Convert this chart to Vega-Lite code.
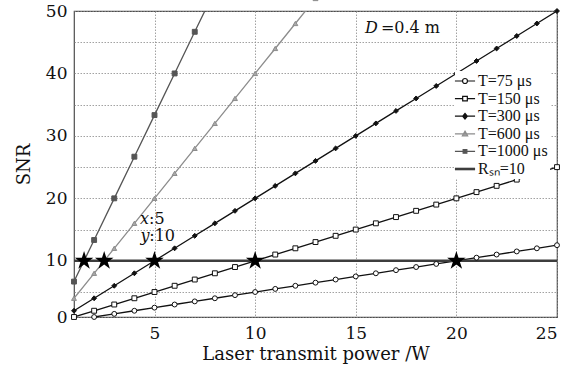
{
  "$schema": "https://vega.github.io/schema/vega-lite/v6.json",
  "width": 483,
  "height": 306,
  "autosize": {"type": "none"},
  "padding": {"left": 74, "top": 11, "right": 23, "bottom": 53},
  "background": "white",
  "config": {
    "font": "DejaVu Serif",
    "view": {"stroke": "#4d4d4d", "strokeWidth": 1.2},
    "axis": {
      "labelFont": "DejaVu Serif", "titleFont": "DejaVu Serif",
      "labelFontSize": 17, "titleFontSize": 18, "titleFontWeight": "normal",
      "labelColor": "#111", "titleColor": "#111",
      "domain": false, "ticks": false,
      "gridColor": "#8a8a8a", "gridDash": [1.5, 1.5], "gridWidth": 0.8, "gridOpacity": 1
    }
  },
  "data": {"values": [
      {"k": "L", "s": "T=75 μs", "x": 2, "y": 1}, {"k": "L", "s": "T=75 μs", "x": 3, "y": 1.5}, {"k": "L", "s": "T=75 μs", "x": 4, "y": 2}, {"k": "L", "s": "T=75 μs", "x": 5, "y": 2.5},
      {"k": "L", "s": "T=75 μs", "x": 6, "y": 3}, {"k": "L", "s": "T=75 μs", "x": 7, "y": 3.5}, {"k": "L", "s": "T=75 μs", "x": 8, "y": 4}, {"k": "L", "s": "T=75 μs", "x": 9, "y": 4.5},
      {"k": "L", "s": "T=75 μs", "x": 10, "y": 5}, {"k": "L", "s": "T=75 μs", "x": 11, "y": 5.5}, {"k": "L", "s": "T=75 μs", "x": 12, "y": 6}, {"k": "L", "s": "T=75 μs", "x": 13, "y": 6.5},
      {"k": "L", "s": "T=75 μs", "x": 14, "y": 7}, {"k": "L", "s": "T=75 μs", "x": 15, "y": 7.5}, {"k": "L", "s": "T=75 μs", "x": 16, "y": 8}, {"k": "L", "s": "T=75 μs", "x": 17, "y": 8.5},
      {"k": "L", "s": "T=75 μs", "x": 18, "y": 9}, {"k": "L", "s": "T=75 μs", "x": 19, "y": 9.5}, {"k": "L", "s": "T=75 μs", "x": 20, "y": 10}, {"k": "L", "s": "T=75 μs", "x": 21, "y": 10.5},
      {"k": "L", "s": "T=75 μs", "x": 22, "y": 11}, {"k": "L", "s": "T=75 μs", "x": 23, "y": 11.5}, {"k": "L", "s": "T=75 μs", "x": 24, "y": 12}, {"k": "L", "s": "T=75 μs", "x": 25, "y": 12.5},
      {"k": "L", "s": "T=150 μs", "x": 1, "y": 1}, {"k": "L", "s": "T=150 μs", "x": 2, "y": 2}, {"k": "L", "s": "T=150 μs", "x": 3, "y": 3}, {"k": "L", "s": "T=150 μs", "x": 4, "y": 4},
      {"k": "L", "s": "T=150 μs", "x": 5, "y": 5}, {"k": "L", "s": "T=150 μs", "x": 6, "y": 6}, {"k": "L", "s": "T=150 μs", "x": 7, "y": 7}, {"k": "L", "s": "T=150 μs", "x": 8, "y": 8},
      {"k": "L", "s": "T=150 μs", "x": 9, "y": 9}, {"k": "L", "s": "T=150 μs", "x": 10, "y": 10}, {"k": "L", "s": "T=150 μs", "x": 11, "y": 11}, {"k": "L", "s": "T=150 μs", "x": 12, "y": 12},
      {"k": "L", "s": "T=150 μs", "x": 13, "y": 13}, {"k": "L", "s": "T=150 μs", "x": 14, "y": 14}, {"k": "L", "s": "T=150 μs", "x": 15, "y": 15}, {"k": "L", "s": "T=150 μs", "x": 16, "y": 16},
      {"k": "L", "s": "T=150 μs", "x": 17, "y": 17}, {"k": "L", "s": "T=150 μs", "x": 18, "y": 18}, {"k": "L", "s": "T=150 μs", "x": 19, "y": 19}, {"k": "L", "s": "T=150 μs", "x": 20, "y": 20},
      {"k": "L", "s": "T=150 μs", "x": 21, "y": 21}, {"k": "L", "s": "T=150 μs", "x": 22, "y": 22}, {"k": "L", "s": "T=150 μs", "x": 23, "y": 23}, {"k": "L", "s": "T=150 μs", "x": 24, "y": 24},
      {"k": "L", "s": "T=150 μs", "x": 25, "y": 25},
      {"k": "L", "s": "T=300 μs", "x": 1, "y": 2}, {"k": "L", "s": "T=300 μs", "x": 2, "y": 4}, {"k": "L", "s": "T=300 μs", "x": 3, "y": 6}, {"k": "L", "s": "T=300 μs", "x": 4, "y": 8},
      {"k": "L", "s": "T=300 μs", "x": 5, "y": 10}, {"k": "L", "s": "T=300 μs", "x": 6, "y": 12}, {"k": "L", "s": "T=300 μs", "x": 7, "y": 14}, {"k": "L", "s": "T=300 μs", "x": 8, "y": 16},
      {"k": "L", "s": "T=300 μs", "x": 9, "y": 18}, {"k": "L", "s": "T=300 μs", "x": 10, "y": 20}, {"k": "L", "s": "T=300 μs", "x": 11, "y": 22}, {"k": "L", "s": "T=300 μs", "x": 12, "y": 24},
      {"k": "L", "s": "T=300 μs", "x": 13, "y": 26}, {"k": "L", "s": "T=300 μs", "x": 14, "y": 28}, {"k": "L", "s": "T=300 μs", "x": 15, "y": 30}, {"k": "L", "s": "T=300 μs", "x": 16, "y": 32},
      {"k": "L", "s": "T=300 μs", "x": 17, "y": 34}, {"k": "L", "s": "T=300 μs", "x": 18, "y": 36}, {"k": "L", "s": "T=300 μs", "x": 19, "y": 38}, {"k": "L", "s": "T=300 μs", "x": 20, "y": 40},
      {"k": "L", "s": "T=300 μs", "x": 21, "y": 42}, {"k": "L", "s": "T=300 μs", "x": 22, "y": 44}, {"k": "L", "s": "T=300 μs", "x": 23, "y": 46}, {"k": "L", "s": "T=300 μs", "x": 24, "y": 48},
      {"k": "L", "s": "T=300 μs", "x": 25, "y": 50},
      {"k": "L", "s": "T=600 μs", "x": 1, "y": 4}, {"k": "L", "s": "T=600 μs", "x": 2, "y": 8}, {"k": "L", "s": "T=600 μs", "x": 3, "y": 12}, {"k": "L", "s": "T=600 μs", "x": 4, "y": 16},
      {"k": "L", "s": "T=600 μs", "x": 5, "y": 20}, {"k": "L", "s": "T=600 μs", "x": 6, "y": 24}, {"k": "L", "s": "T=600 μs", "x": 7, "y": 28}, {"k": "L", "s": "T=600 μs", "x": 8, "y": 32},
      {"k": "L", "s": "T=600 μs", "x": 9, "y": 36}, {"k": "L", "s": "T=600 μs", "x": 10, "y": 40}, {"k": "L", "s": "T=600 μs", "x": 11, "y": 44}, {"k": "L", "s": "T=600 μs", "x": 12, "y": 48},
      {"k": "L", "s": "T=600 μs", "x": 13, "y": 52},
      {"k": "L", "s": "T=1000 μs", "x": 1, "y": 6.67}, {"k": "L", "s": "T=1000 μs", "x": 2, "y": 13.33}, {"k": "L", "s": "T=1000 μs", "x": 3, "y": 20}, {"k": "L", "s": "T=1000 μs", "x": 4, "y": 26.67},
      {"k": "L", "s": "T=1000 μs", "x": 5, "y": 33.33}, {"k": "L", "s": "T=1000 μs", "x": 6, "y": 40}, {"k": "L", "s": "T=1000 μs", "x": 7, "y": 46.67}, {"k": "L", "s": "T=1000 μs", "x": 8, "y": 53.33},
      {"k": "L", "s": "Rₛₙ=10", "x": 1, "y": 10}, {"k": "L", "s": "Rₛₙ=10", "x": 25, "y": 10},
      {"k": "star", "x": 1.5, "y": 10}, {"k": "star", "x": 2.5, "y": 10}, {"k": "star", "x": 5, "y": 10}, {"k": "star", "x": 10, "y": 10}, {"k": "star", "x": 20, "y": 10},
      {"k": "it", "x": 4.28, "y": 16.7, "t": "x"}, {"k": "it", "x": 4.3, "y": 13.9, "t": "y"}, {"k": "it", "x": 15.46, "y": 47.2, "t": "D"},
      {"k": "pl", "x": 4.73, "y": 16.7, "t": ":5"}, {"k": "pl", "x": 4.74, "y": 13.9, "t": ":10"}, {"k": "pl", "x": 16.25, "y": 47.2, "t": "=0.4 m"}
  ]},
  "encoding": {
    "x": {
      "field": "x", "type": "quantitative",
      "scale": {"domain": [1, 25], "nice": false, "zero": false},
      "axis": {"values": [5, 10, 15, 20, 25], "title": "Laser transmit power /W", "labelPadding": 8, "titlePadding": 4}
    },
    "y": {
      "field": "y", "type": "quantitative",
      "scale": {"domain": [1, 50], "nice": false, "zero": false},
      "axis": {
        "values": [1, 5, 10, 15, 20, 25, 30, 35, 40, 45, 50],
        "labelExpr": "datum.value == 1 ? '0' : (datum.value % 10 == 0 ? datum.label : '')",
        "title": "SNR", "labelPadding": 7, "titlePadding": 12
      }
    }
  },
  "layer": [
    {
      "transform": [{"filter": "datum.k === 'L'"}],
      "mark": {"type": "line", "clip": true},
      "encoding": {
        "stroke": {
          "field": "s", "type": "nominal",
          "scale": {
            "domain": ["T=75 μs", "T=150 μs", "T=300 μs", "T=600 μs", "T=1000 μs", "Rₛₙ=10"],
            "range": ["#111111", "#111111", "#111111", "#8c8c8c", "#555555", "#3d3d3d"]
          },
          "legend": {
            "title": null, "orient": "none", "legendX": 381, "legendY": 60,
            "fillColor": "white", "padding": 2,
            "labelFont": "Liberation Serif", "labelFontSize": 16, "labelColor": "#111",
            "symbolSize": 240, "labelOffset": 5, "rowPadding": 1.6, "symbolStrokeWidth": 1.2,
            "encode": {
              "symbols": {
                "update": {
                  "shape": {"signal": "datum.value === 'T=75 μs' ? 'M-1.3,0H-0.32M0.32,0H1.3M-0.32,0A0.32,0.32 0 1,0 0.32,0A0.32,0.32 0 1,0 -0.32,0' : datum.value === 'T=150 μs' ? 'M-1.3,0H-0.3M0.3,0H1.3M-0.3,-0.3H0.3V0.3H-0.3Z' : datum.value === 'T=300 μs' ? 'M-1.3,0H1.3M0,-0.36L0.3,0L0,0.36L-0.3,0Z' : datum.value === 'T=600 μs' ? 'M-1.3,0H1.3M0,-0.34L0.34,0.26H-0.34Z' : datum.value === 'T=1000 μs' ? 'M-1.3,0H1.3M-0.24,-0.24H0.24V0.24H-0.24Z' : 'M-1.3,0H1.3'"},
                  "fill": {"signal": "datum.value === 'T=300 μs' ? '#111111' : datum.value === 'T=600 μs' ? '#aaaaaa' : datum.value === 'T=1000 μs' ? '#555555' : 'white'"},
                  "strokeWidth": {"signal": "datum.value === 'Rₛₙ=10' ? 2.6 : 1.2"}
                }
              }
            }
          }
        },
        "strokeWidth": {
          "condition": {"test": "datum.s === 'Rₛₙ=10'", "value": 2.6},
          "value": 1.3
        }
      }
    },
    {
      "transform": [{"filter": "datum.k === 'L' && datum.s !== 'Rₛₙ=10'"}],
      "mark": {"type": "point", "size": 24, "strokeWidth": 1, "opacity": 1},
      "encoding": {
        "stroke": {"field": "s", "type": "nominal"},
        "shape": {
          "field": "s", "type": "nominal",
          "scale": {"domain": ["T=75 μs", "T=150 μs", "T=300 μs", "T=600 μs", "T=1000 μs"], "range": ["circle", "square", "diamond", "triangle-up", "square"]},
          "legend": null
        },
        "fill": {
          "field": "s", "type": "nominal",
          "scale": {"domain": ["T=75 μs", "T=150 μs", "T=300 μs", "T=600 μs", "T=1000 μs"], "range": ["white", "white", "#111111", "#aaaaaa", "#555555"]},
          "legend": null
        }
      }
    },
    {
      "transform": [{"filter": "datum.k === 'star'"}],
      "mark": {"type": "point", "shape": "M0,-1L0.2245,-0.309L0.951,-0.309L0.363,0.118L0.588,0.809L0,0.382L-0.588,0.809L-0.363,0.118L-0.951,-0.309L-0.2245,-0.309Z", "filled": true, "color": "black", "size": 380, "opacity": 1},
      "encoding": {}
    },
    {
      "transform": [{"filter": "datum.k === 'it'"}],
      "mark": {"type": "text", "align": "left", "baseline": "middle", "fontStyle": "italic", "fontSize": 16, "color": "#111"},
      "encoding": {"text": {"field": "t", "type": "nominal"}}
    },
    {
      "transform": [{"filter": "datum.k === 'pl'"}],
      "mark": {"type": "text", "align": "left", "baseline": "middle", "fontSize": 16, "color": "#111"},
      "encoding": {"text": {"field": "t", "type": "nominal"}}
    }
  ]
}
